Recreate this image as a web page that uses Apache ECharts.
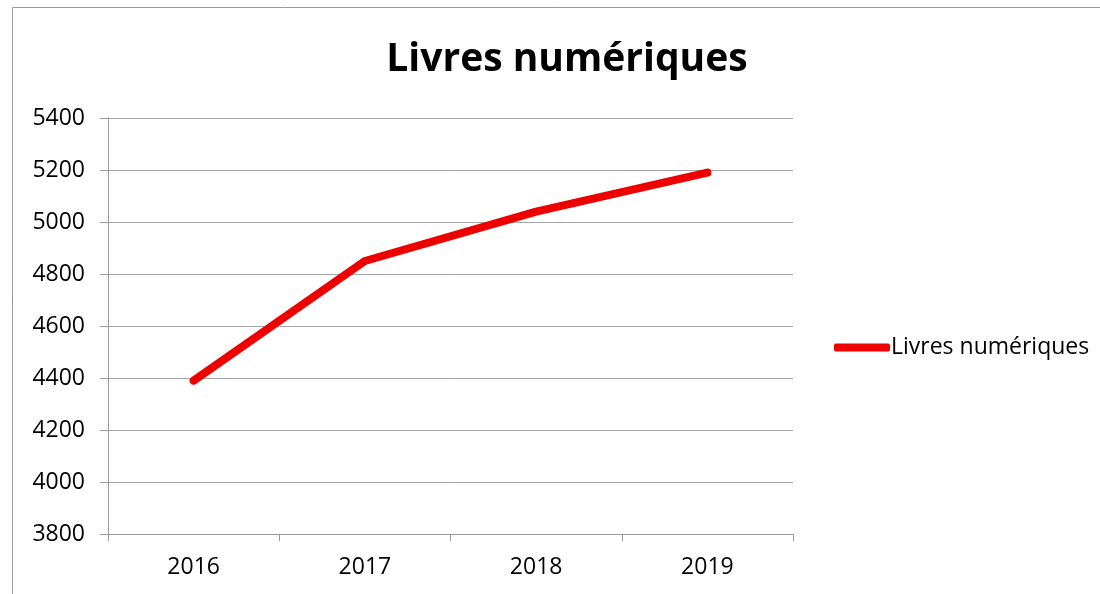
<!DOCTYPE html>
<html>
<head>
<meta charset="utf-8">
<script src="https://cdn.jsdelivr.net/npm/echarts@6/dist/echarts.min.js"></script>
<style>
  html, body { margin: 0; padding: 0; background: #fff; }
  #chart { width: 1100px; height: 594px; }
</style>
</head>
<body>
<div id="chart"></div>
<script>
// chart data
var years = ['2016', '2017', '2018', '2019'];
var livres = [4390, 4850, 5040, 5190];
var seriesName = 'Livres numériques';

var font = '"Open Sans", "Noto Sans", sans-serif';
var chart = echarts.init(document.getElementById('chart'));

chart.setOption({
    animation: false,
    backgroundColor: '#fff',
    title: {
        text: 'Livres numériques',
        left: 562,
        top: 35,
        textAlign: 'center',
        textStyle: { fontFamily: font, fontSize: 39, fontWeight: 'bold', color: '#000' }
    },
    graphic: [{
        type: 'rect',
        shape: { x: 12.5, y: 7.5, width: 1100, height: 600 },
        style: { fill: 'none', stroke: '#999', lineWidth: 1 }
    }],
    legend: {
        left: 829,
        top: 331,
        orient: 'vertical',
        icon: 'roundRect',
        itemWidth: 56,
        itemHeight: 8,
        textStyle: { fontFamily: font, fontSize: 23, color: '#000', padding: [0, 0, 0, -4] },
        data: [seriesName]
    },
    grid: { left: 108, right: 307, top: 118, bottom: 60 },
    xAxis: {
        type: 'category',
        data: years,
        boundaryGap: true,
        axisLine: { lineStyle: { color: '#999' } },
        axisTick: { show: true, length: 7, alignWithLabel: false, lineStyle: { color: '#999' } },
        axisLabel: { margin: 22, fontFamily: font, fontSize: 23, color: '#000' }
    },
    yAxis: {
        type: 'value',
        min: 3800,
        max: 5400,
        interval: 200,
        axisLine: { show: true, lineStyle: { color: '#999' } },
        axisTick: { show: true, length: 8, lineStyle: { color: '#999' } },
        axisLabel: {
            margin: 23, fontFamily: font, fontSize: 23, color: '#000',
            formatter: function (v) { return String(v); }
        },
        splitLine: { lineStyle: { color: '#a6a6a6' } }
    },
    series: [{
        name: seriesName,
        type: 'line',
        data: livres,
        symbol: 'none',
        color: '#ee0000',
        lineStyle: { width: 8, cap: 'round', join: 'round', color: '#ee0000' }
    }]
});
</script>
</body>
</html>
